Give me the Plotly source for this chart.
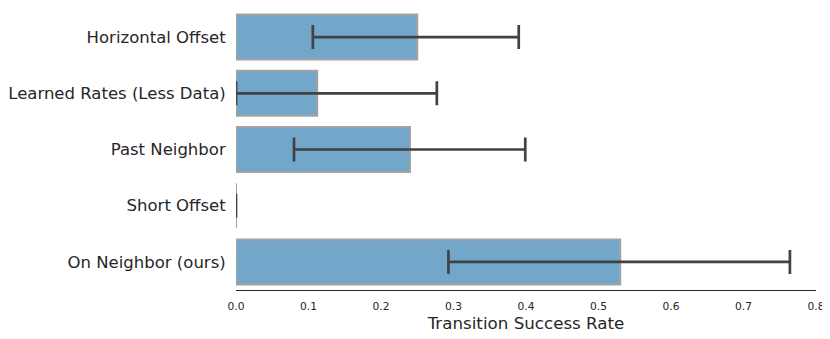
import plotly.graph_objects as go

# -----------------------------
# Data
# -----------------------------
categories = ["Horizontal Offset", "Learned Rates (Less Data)", "Past Neighbor",
              "Short Offset", "On Neighbor (ours)"]
success_rate = [0.25, 0.112, 0.24, 0.0, 0.53]
ci_low = [0.106, 0.0, 0.08, 0.0, 0.293]
ci_high = [0.39, 0.277, 0.399, 0.0, 0.764]
x_ticks = [0.0, 0.1, 0.2, 0.3, 0.4, 0.5, 0.6, 0.7, 0.8]

err_plus = [h - m for h, m in zip(ci_high, success_rate)]
err_minus = [m - l for m, l in zip(success_rate, ci_low)]

# -----------------------------
# Bar chart
# -----------------------------
fig = go.Figure(go.Bar(
    x=success_rate,
    y=categories,
    orientation="h",
    width=0.8,
    marker=dict(color="#72a7c9", line=dict(color="#a3a3a3", width=2)),
    error_x=dict(type="data", array=err_plus, arrayminus=err_minus,
                 color="#424242", thickness=2.7, width=12),
    cliponaxis=False,
))

# Styling (page body has an 8px margin, so the figure is 8px smaller)
fig.update_layout(
    width=822, height=331,
    margin=dict(l=228, r=14, t=1, b=49),
    plot_bgcolor="white", paper_bgcolor="white",
    font=dict(family="DejaVu Sans", color="#262626"),
    showlegend=False,
)
fig.update_xaxes(
    range=[0, 0.8], tickvals=x_ticks, tickformat=".1f", automargin=False,
    tickfont=dict(size=10.7), showgrid=False, zeroline=False,
    showline=True, linecolor="#262626", linewidth=1.3,
    ticks="outside", ticklen=6, tickcolor="white",
    title=dict(text="Transition Success Rate", font=dict(size=16.7), standoff=2),
)
fig.update_yaxes(
    categoryorder="array", categoryarray=categories, automargin=False,
    range=[4.5, -0.5], tickfont=dict(size=16.5), showgrid=False, zeroline=False,
    showline=False, ticks="outside", ticklen=6, tickcolor="white",
)

fig.write_html("out.html")
